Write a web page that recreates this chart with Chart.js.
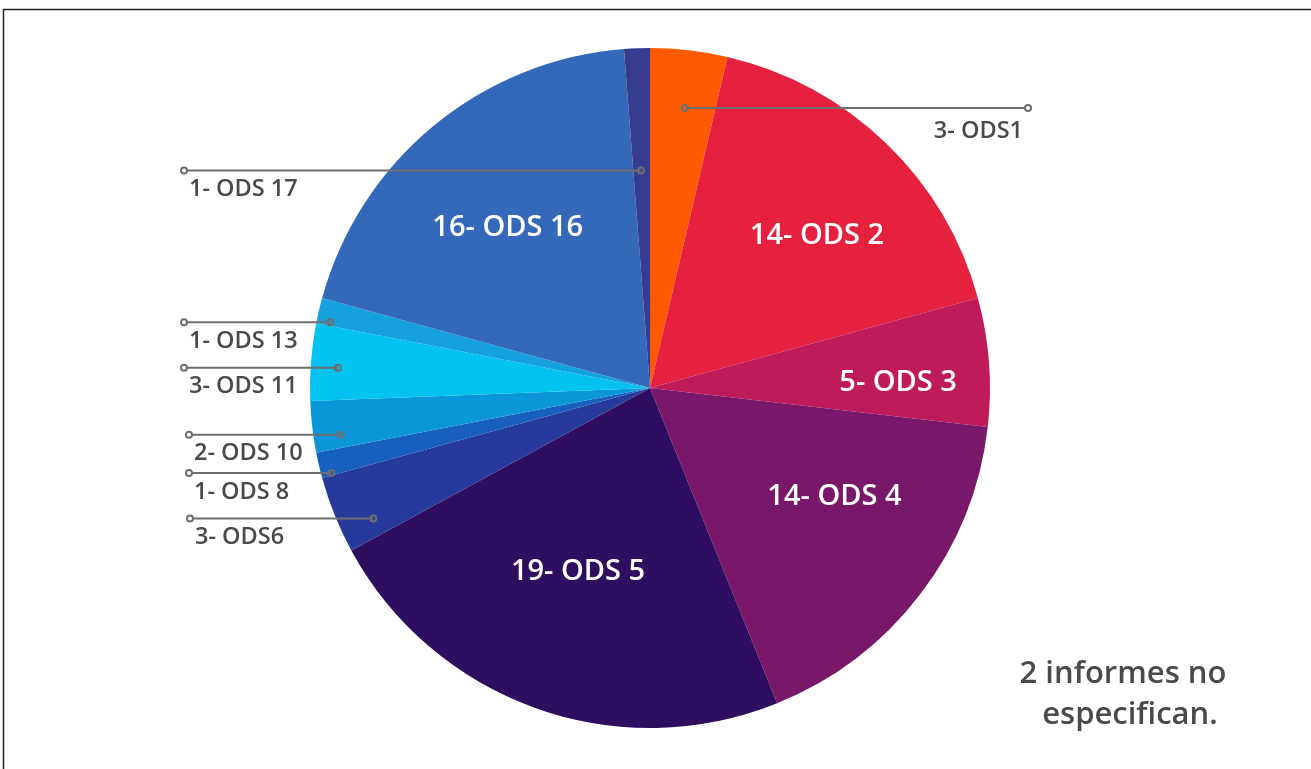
<!DOCTYPE html>
<html>
<head>
<meta charset="utf-8">
<script src="https://cdn.jsdelivr.net/npm/chart.js@4/dist/chart.umd.min.js"></script>
<style>
html,body{margin:0;padding:0;background:#fff;}
#wrap{position:relative;width:1311px;height:769px;}
canvas{display:block;}
</style>
</head>
<body>
<div id="wrap"><canvas id="c" width="1311" height="769"></canvas></div>
<script>
// ---- data ----
const categories = ["ODS1","ODS 2","ODS 3","ODS 4","ODS 5","ODS6","ODS 8","ODS 10","ODS 11","ODS 13","ODS 16","ODS 17"];
const counts     = [3, 14, 5, 14, 19, 3, 1, 2, 3, 1, 16, 1];
const colors     = ["#FF5A00","#E6213F","#BF1B5B","#79186A","#2F0E5F","#27399A","#1760BF","#0A97D9","#02C3EF","#14A1DD","#3468B8","#383C90"];
const noteLines  = ["2 informes no", "especifican."];

// ---- label layout (style/positions) ----
const insideLabels = { // index -> radius fraction, angle fraction within slice
  1:{rf:0.665,t:0.56}, 2:{rf:0.73,t:0.64}, 3:{rf:0.63,t:0.39}, 4:{rf:0.58,t:0.52}, 10:{rf:0.63,t:0.47}
};
const outsideLabels = { // anchor inside slice, leader end x, text side
  0:{t:0.54,rf:0.83,endX:1028,align:'right'},
  11:{t:0.45,rf:0.64,endX:184,align:'left'},
  9:{t:0.15,rf:0.96,endX:184,align:'left'},
  8:{t:0.45,rf:0.92,endX:184,align:'left'},
  7:{t:0.27,rf:0.92,endX:189,align:'left'},
  6:{t:0.10,rf:0.97,endX:189,align:'left'},
  5:{t:0.25,rf:0.90,endX:190,align:'left'}
};

const labelText = i => counts[i] + "- " + categories[i];

const labelPlugin = {
  id:'labels',
  beforeDraw(chart){
    const ctx = chart.ctx;
    ctx.save();
    ctx.strokeStyle = '#222';
    ctx.lineWidth = 1.5;
    ctx.beginPath();
    ctx.moveTo(3.5, 769); ctx.lineTo(3.5, 9.5); ctx.lineTo(1311, 9.5);
    ctx.stroke();
    ctx.restore();
  },
  afterDatasetsDraw(chart){
    const ctx = chart.ctx;
    const meta = chart.getDatasetMeta(0);
    ctx.save();
    // inside labels
    ctx.fillStyle = '#fff';
    ctx.font = '600 29px "Open Sans", sans-serif';
    ctx.textAlign = 'center';
    ctx.textBaseline = 'middle';
    for (const k in insideLabels){
      const i = +k, a = meta.data[i], c = insideLabels[k];
      const ang = a.startAngle + (a.endAngle - a.startAngle)*c.t;
      const r = a.outerRadius*c.rf;
      ctx.fillText(labelText(i), a.x + r*Math.cos(ang), a.y + r*Math.sin(ang));
    }
    // outside labels with leaders
    ctx.font = '600 23.5px "Open Sans", sans-serif';
    for (const k in outsideLabels){
      const i = +k, a = meta.data[i], c = outsideLabels[k];
      const ang = a.startAngle + (a.endAngle - a.startAngle)*c.t;
      const r = a.outerRadius*c.rf;
      const ax = a.x + r*Math.cos(ang), ay = a.y + r*Math.sin(ang);
      ctx.strokeStyle = '#6e6e6e';
      ctx.lineWidth = 2;
      ctx.beginPath(); ctx.moveTo(ax, ay); ctx.lineTo(c.endX, ay); ctx.stroke();
      for (const px of [ax, c.endX]){
        ctx.beginPath(); ctx.arc(px, ay, 3, 0, Math.PI*2);
        ctx.fillStyle = px === ax ? 'rgba(0,0,0,0)' : '#fff';
        ctx.fill(); ctx.stroke();
      }
      ctx.fillStyle = '#4a4a4a';
      ctx.textBaseline = 'middle';
      if (c.align === 'left'){
        ctx.textAlign = 'left';
        ctx.fillText(labelText(i), c.endX + 5, ay + 19);
      } else {
        ctx.textAlign = 'right';
        ctx.fillText(labelText(i), c.endX - 5, ay + 23);
      }
    }
    // note
    ctx.fillStyle = '#4a4a4a';
    ctx.font = '600 31px "Open Sans", sans-serif';
    ctx.textAlign = 'center';
    ctx.textBaseline = 'middle';
    ctx.fillText(noteLines[0], 1123, 674);
    ctx.fillText(noteLines[1], 1130, 715);
    ctx.restore();
  }
};

new Chart(document.getElementById('c'), {
  type:'pie',
  data:{ labels: categories, datasets:[{ data: counts, backgroundColor: colors, borderWidth: 0 }] },
  options:{
    responsive:false,
    animation:false,
    layout:{ padding:{ top:48, bottom:41, left:0, right:11 } },
    plugins:{ legend:{display:false}, tooltip:{enabled:false} }
  },
  plugins:[labelPlugin]
});
</script>
</body>
</html>
